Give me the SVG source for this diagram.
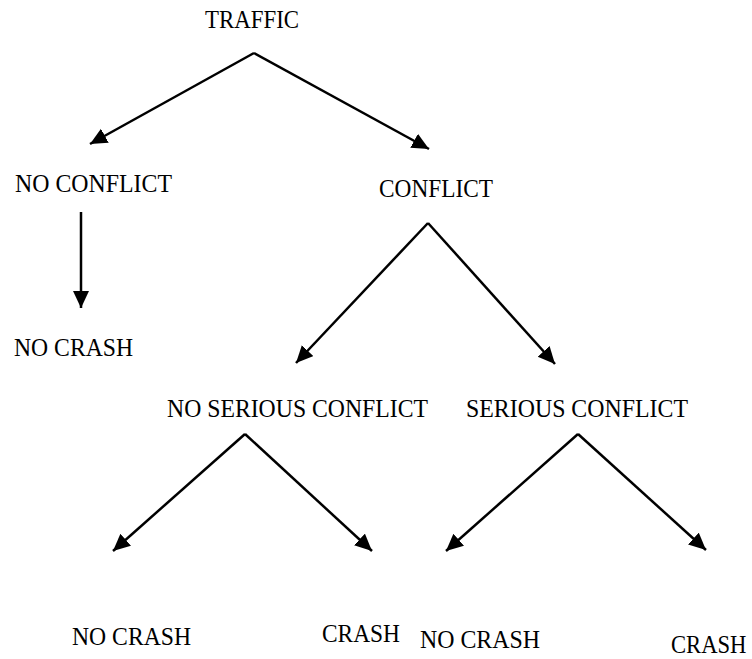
<svg xmlns="http://www.w3.org/2000/svg" width="752" height="659" viewBox="0 0 752 659">
<style>
text{font-family:"Liberation Serif","Times New Roman",serif;font-size:26px;fill:#000}
.c{fill:none;stroke:#000;stroke-width:2.5;stroke-linejoin:miter}
</style>
<defs>
<marker id="ah" markerUnits="userSpaceOnUse" markerWidth="19" markerHeight="17" refX="17" refY="8" orient="auto">
<path d="M0,0 L17,8 L0,16 z" fill="#000"/>
</marker>
</defs>
<rect width="752" height="659" fill="#fff"/>
<g id="connectors">
<path class="c" d="M254,53 L90,144" marker-end="url(#ah)"/>
<path class="c" d="M254,53 L429,149" marker-end="url(#ah)"/>
<path class="c" d="M81,212 L81,308" marker-end="url(#ah)"/>
<path class="c" d="M428,223 L296,363" marker-end="url(#ah)"/>
<path class="c" d="M428,223 L555,364" marker-end="url(#ah)"/>
<path class="c" d="M245,434 L113,551" marker-end="url(#ah)"/>
<path class="c" d="M245,434 L372,551" marker-end="url(#ah)"/>
<path class="c" d="M578,434 L446,551" marker-end="url(#ah)"/>
<path class="c" d="M578,434 L706,550" marker-end="url(#ah)"/>
</g>
<g id="traffic"><text x="205" y="28" textLength="94" lengthAdjust="spacingAndGlyphs">TRAFFIC</text></g>
<g id="no-conflict"><text x="15" y="192" textLength="157" lengthAdjust="spacingAndGlyphs">NO CONFLICT</text></g>
<g id="conflict"><text x="379" y="197" textLength="114" lengthAdjust="spacingAndGlyphs">CONFLICT</text></g>
<g id="no-crash-1"><text x="14" y="356" textLength="119" lengthAdjust="spacingAndGlyphs">NO CRASH</text></g>
<g id="no-serious-conflict"><text x="167" y="417" textLength="261" lengthAdjust="spacingAndGlyphs">NO SERIOUS CONFLICT</text></g>
<g id="serious-conflict"><text x="466" y="417" textLength="222" lengthAdjust="spacingAndGlyphs">SERIOUS CONFLICT</text></g>
<g id="no-crash-2"><text x="72" y="645" textLength="119" lengthAdjust="spacingAndGlyphs">NO CRASH</text></g>
<g id="crash-1"><text x="322" y="642" textLength="78" lengthAdjust="spacingAndGlyphs">CRASH</text></g>
<g id="no-crash-3"><text x="420" y="648" textLength="120" lengthAdjust="spacingAndGlyphs">NO CRASH</text></g>
<g id="crash-2"><text transform="translate(671,653) scale(0.87,1)" x="0" y="0">CRASH</text></g>
</svg>
